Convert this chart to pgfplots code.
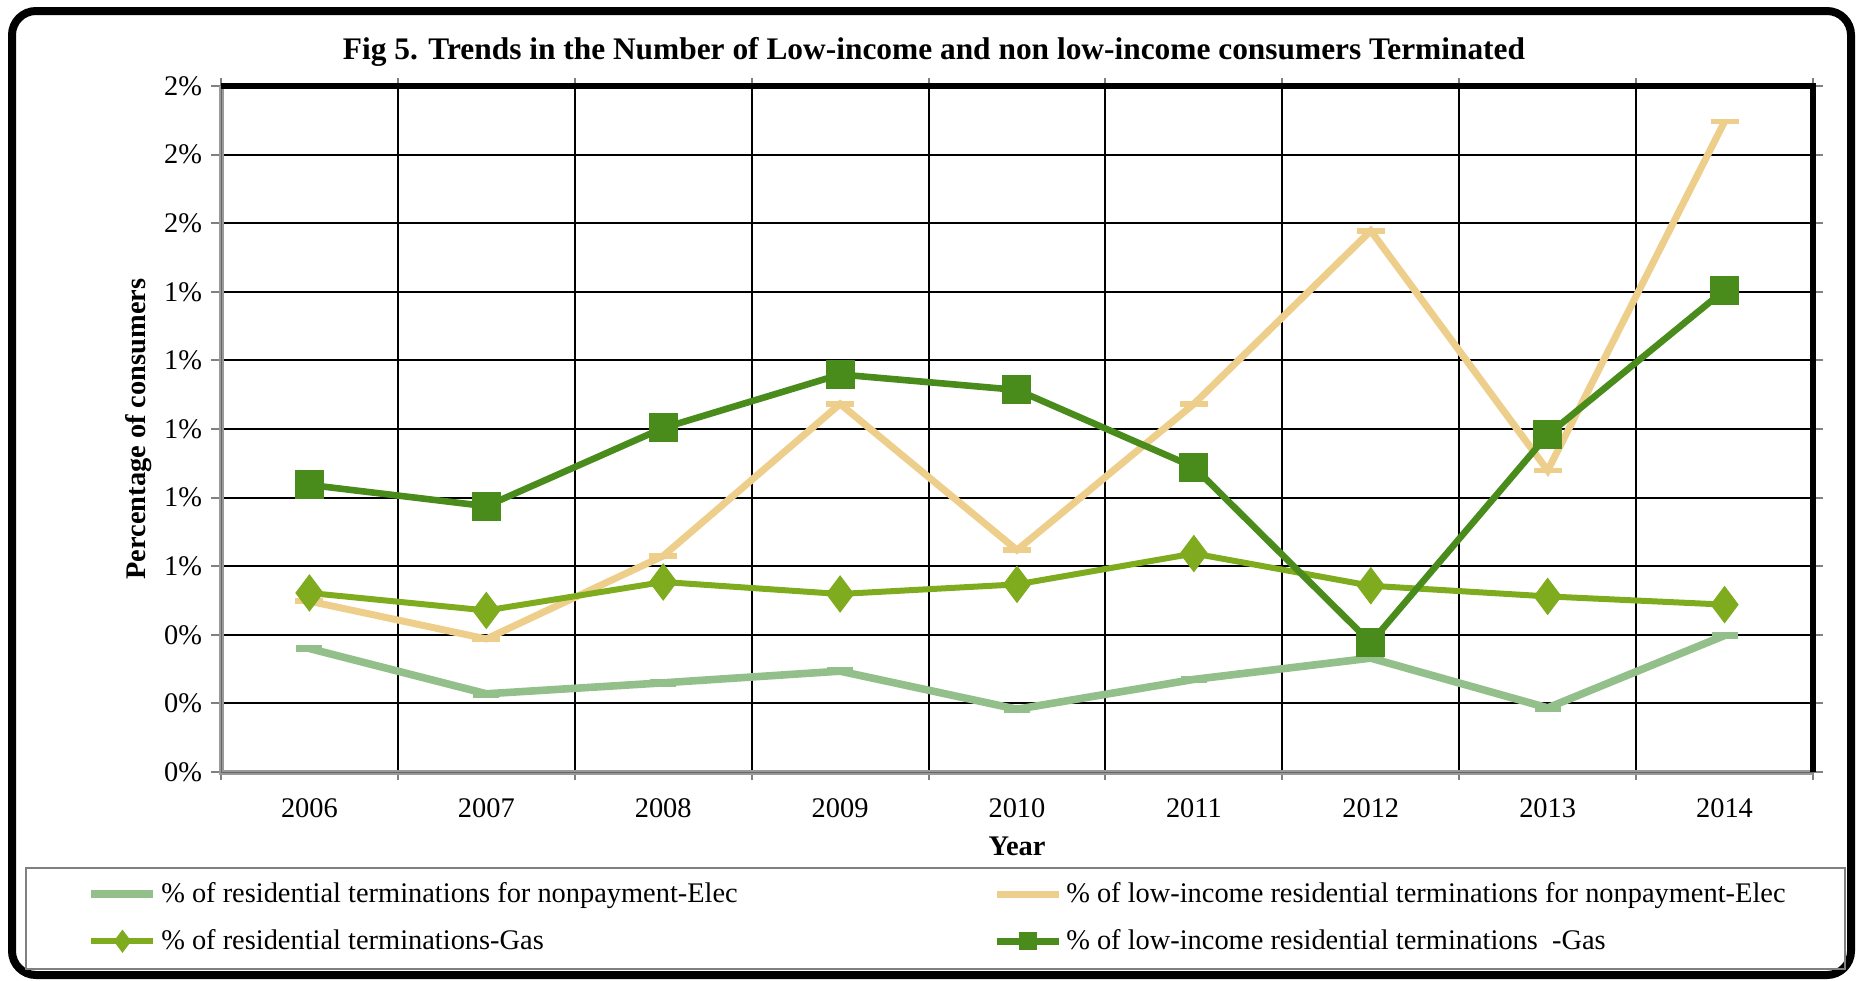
\documentclass[border=0pt]{standalone}
\usepackage{pgfplots}
\pgfplotsset{compat=1.18}
\usepackage{fontspec}
\setmainfont{Liberation Serif}
\definecolor{cElec}{RGB}{147,191,138}
\definecolor{cLowElec}{RGB}{237,206,139}
\definecolor{cGas}{RGB}{127,172,30}
\definecolor{cLowGas}{RGB}{74,140,28}
\newcommand{\fs}{\fontsize{14.2}{16}\selectfont}
\begin{document}
\begin{tikzpicture}
\useasboundingbox (0,0) rectangle (929pt,-490pt);
\draw[line width=4pt, rounded corners=12pt] (6pt,-5.5pt) rectangle (925.5pt,-487.5pt);
\draw[gray, line width=0.8pt] (13pt,-434pt) rectangle (922.5pt,-484.5pt);
\node[font=\fontsize{15.7}{18}\selectfont\bfseries] at (467pt,-26pt) {Fig 5. Trends in the Number of Low-income and non low-income consumers Terminated};
\node[font=\fs\bfseries, rotate=90] at (69.5pt,-214.5pt) {Percentage of consumers};
\node[font=\fs\bfseries] at (508.5pt,-423pt) {Year};
\begin{axis}[
  at={(110.5pt,-386pt)}, anchor=south west,
  scale only axis, width=796pt, height=343pt,
  xmin=-0.5, xmax=8.5, ymin=0, ymax=2,
  xtick={0,1,2,3,4,5,6,7,8},
  xticklabels={2006,2007,2008,2009,2010,2011,2012,2013,2014},
  minor xtick={-0.5,0.5,1.5,2.5,3.5,4.5,5.5,6.5,7.5,8.5},
  ytick={0,0.2,0.4,0.6,0.8,1,1.2,1.4,1.6,1.8,2},
  yticklabels={0\%,0\%,0\%,1\%,1\%,1\%,1\%,1\%,2\%,2\%,2\%},
  tick label style={font=\fs},
  tick align=outside,
  major tick length=5pt, minor tick length=4pt,
  every major x tick/.append style={draw=none},
  every minor x tick/.append style={gray, line width=1pt},
  every major y tick/.append style={gray, line width=1pt},
  ymajorgrids, xminorgrids,
  major grid style={black, line width=1pt},
  minor grid style={black, line width=1pt},
  axis line style={draw=none},
  xticklabel style={yshift=-5pt},
  yticklabel style={xshift=-1pt},
  legend columns=2,
  legend cell align=left,
  legend style={at={(axis description cs:-0.084,-0.155)}, anchor=north west, draw=none, fill=none,
    font=\fs, row sep=8pt, inner sep=0pt,
    /tikz/every even column/.append style={column sep=0pt}},
  legend image code/.code={\draw[mark repeat=2, mark phase=2, #1, /tikz/every mark/.append style={scale=0.6}] plot coordinates {(0pt,0pt) (15.5pt,0pt) (31pt,0pt)};},
  after end axis/.code={
    \draw[gray!80, line width=2.5pt] (rel axis cs:0,1) -- (rel axis cs:0,0) -- (rel axis cs:1,0);
    \draw[black!60, line width=0.5pt] (rel axis cs:0,1) -- (rel axis cs:0,0) -- (rel axis cs:1,0);
    \draw[black, line width=3pt] (rel axis cs:0,1) -- (rel axis cs:1,1) -- (rel axis cs:1,0);
  },
]
\addplot[cElec, line width=3.8pt, mark=-, mark size=6.5pt, mark options={line width=3.8pt}]
  coordinates {(0,0.36) (1,0.228) (2,0.26) (3,0.294) (4,0.183) (5,0.27) (6,0.332) (7,0.187) (8,0.398)};
\addlegendentry{\makebox[414pt][l]{\% of residential terminations for nonpayment-Elec}}
\addplot[cLowElec, line width=3.5pt, mark=-, mark size=7pt, mark options={line width=2.8pt}]
  coordinates {(0,0.498) (1,0.388) (2,0.63) (3,1.073) (4,0.647) (5,1.073) (6,1.578) (7,0.879) (8,1.896)};
\addlegendentry{\% of low-income residential terminations for nonpayment-Elec}
\addplot[cGas, line width=3pt, mark=diamond*, mark size=9pt, mark options={line width=0.5pt, fill=cGas}]
  coordinates {(0,0.522) (1,0.471) (2,0.554) (3,0.519) (4,0.547) (5,0.637) (6,0.543) (7,0.512) (8,0.488)};
\addlegendentry{\makebox[414pt][l]{\% of residential terminations-Gas}}
\addplot[cLowGas, line width=3.3pt, mark=square*, mark size=7pt, mark options={line width=0.5pt, fill=cLowGas}]
  coordinates {(0,0.837) (1,0.775) (2,1.003) (3,1.159) (4,1.114) (5,0.889) (6,0.377) (7,0.983) (8,1.405)};
\addlegendentry{\% of low-income residential terminations \ -Gas}
\end{axis}
\end{tikzpicture}
\end{document}
